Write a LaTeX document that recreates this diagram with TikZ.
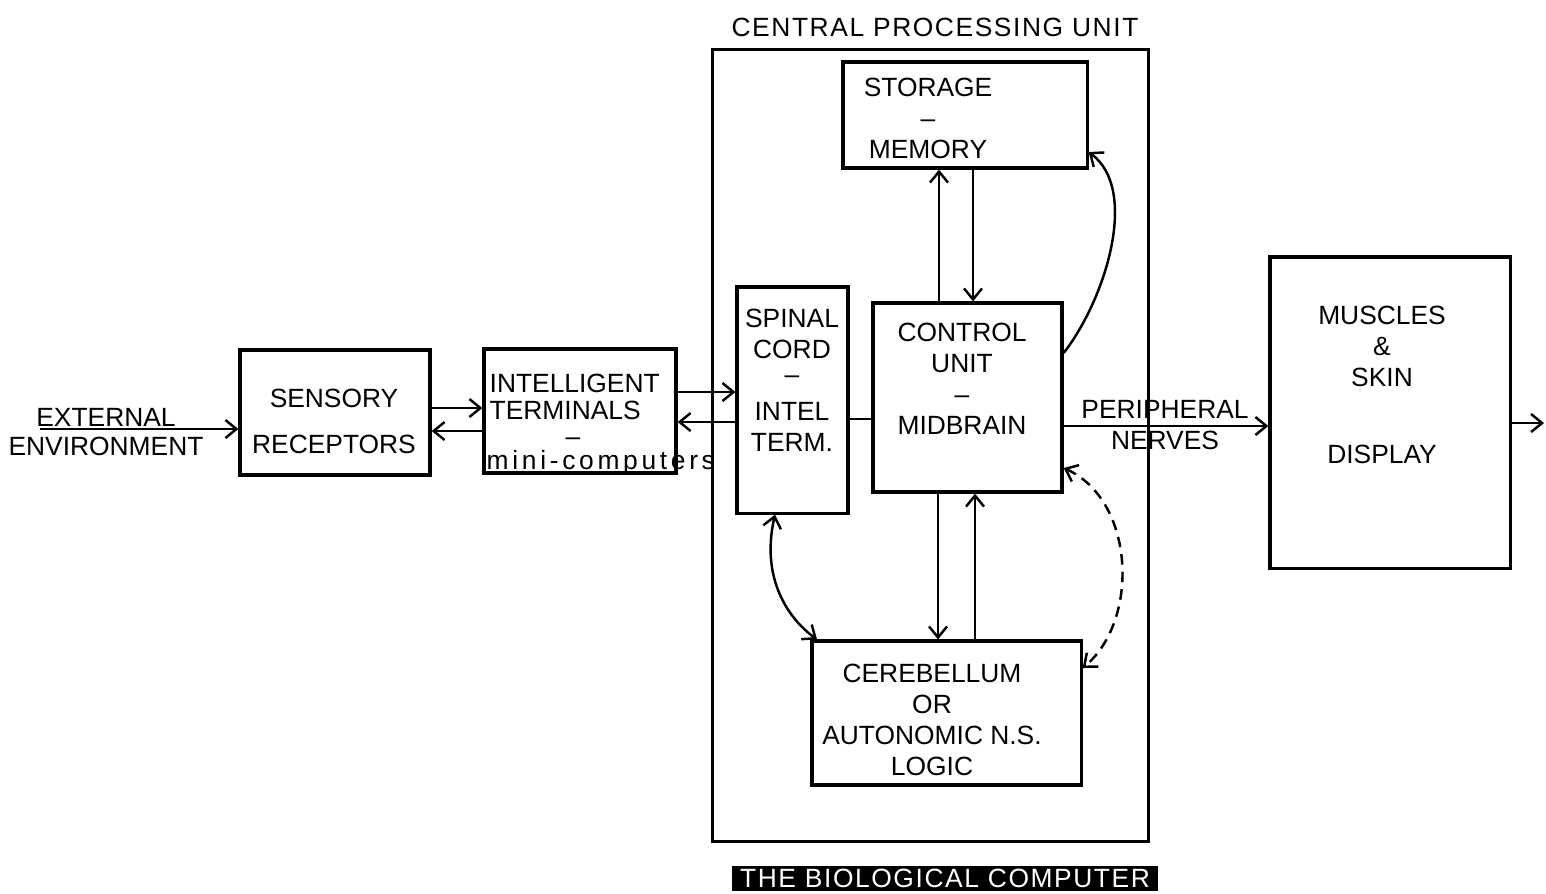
\documentclass[tikz,border=0pt]{standalone}
\usepackage{fontspec}
\setmainfont{Liberation Sans}
\usetikzlibrary{arrows.meta,calc}
\newcommand\bcfont{\fontsize{7.5}{8.8}\selectfont}
\tikzset{bx/.style={draw,line width=.9pt,inner sep=0pt},
 tx/.style={align=center,inner sep=0pt,font=\bcfont},
 wire/.style={line width=.7pt},
 arr/.style={wire,-{Straight Barb[length=1.1mm,width=1.8mm]}},
 darr/.style={wire,{Straight Barb[length=1.1mm,width=1.8mm]}-{Straight Barb[length=1.1mm,width=1.8mm]}},
 dots/.style={dash pattern=on 3pt off 2pt}}

\begin{document}
\begin{tikzpicture}[x=0.01cm,y=-0.01cm]
\useasboundingbox (0,0) rectangle (1546,893);
% boxes
\node[bx,minimum width=4.35cm,minimum height=7.91cm] (cpu) at (930.5,445.5) {};
\node[bx,minimum width=1.9cm,minimum height=1.25cm] (sens) at (335,412.5) {};
\node[bx,minimum width=1.92cm,minimum height=1.24cm] (term) at (580,411) {};
\node[bx,minimum width=1.11cm,minimum height=2.26cm] (spin) at (792.5,400) {};
\node[bx,minimum width=1.89cm,minimum height=1.89cm] (ctrl) at (967.5,397.5) {};
\node[bx,minimum width=2.44cm,minimum height=1.06cm] (stor) at (965,115) {};
\node[bx,minimum width=2.69cm,minimum height=1.44cm] (cere) at (946.5,713) {};
\node[bx,minimum width=2.4cm,minimum height=3.11cm] (musc) at (1390,412.5) {};
\coordinate (ext) at (40,429);
\coordinate (outp) at (1544,423);
% texts
\node[tx] (cputl) at (935,27) {\addfontfeatures{LetterSpace=6}CENTRAL PROCESSING UNIT};
\node[tx] (exttx) at (106,432) {EXTERNAL\\[-0.6pt]ENVIRONMENT};
\node[tx] (senstx) at (334,421.5) {SENSORY\\[4.5pt]RECEPTORS};
\node[tx,align=left,anchor=west] (termtx) at (489,397) {INTELLIGENT\\[-0.9pt]TERMINALS};
\node[tx] (termdash) at (573,442) {--};
\node[tx,anchor=west] (termsub) at (486,463) {\addfontfeatures{LetterSpace=14}mini-computers};
\node[tx] (spintx) at (792,380) {SPINAL\\CORD\\[-1.6pt]--\\[1.6pt]INTEL\\TERM.};
\node[tx] (ctrltx) at (962,379) {CONTROL\\UNIT\\--\\MIDBRAIN};
\node[tx] (stortx) at (928,118) {STORAGE\\--\\MEMORY};
\node[tx] (ceretx) at (932,719.5) {CEREBELLUM\\OR\\AUTONOMIC N.S.\\LOGIC};
\node[tx] (musctx) at (1382,385) {MUSCLES\\\&\\SKIN\\[13pt]DISPLAY};
\node[tx] (pertx) at (1165,425) {PERIPHERAL\\NERVES};
\node[tx,fill=black,text=white,minimum width=4.26cm,minimum height=0.25cm] (bctl) at (945,878) {\addfontfeatures{LetterSpace=6}THE BIOLOGICAL COMPUTER};
% connectors
\draw[arr] (ext) -- (sens.west |- ext);
\foreach \a/\b/\y in {sens.east/term.west/408,term.west/sens.east/431,term.east/spin.west/392,
 spin.west/term.east/422,ctrl.east/musc.west/426}{\draw[arr] (\a |- 0,\y) -- (\b |- 0,\y);}
\draw[wire] (spin.east |- 0,419) -- (ctrl.west |- 0,419);
\draw[arr] (musc.east |- outp) -- (outp);
\foreach \a/\b/\x in {ctrl.north/stor.south/939,stor.south/ctrl.north/973,
 ctrl.south/cere.north/938,cere.north/ctrl.south/975}{\draw[arr] (\a -| \x,0) -- (\b -| \x,0);}
\draw[arr] (ctrl.east |- 0,353) .. controls (1105,300) and (1140,190) .. (stor.east |- 0,152);
\draw[darr,dots] (ctrl.east |- 0,468) .. controls (1135,500) and (1140,620) .. (cere.east |- 0,668);
\draw[darr] (spin.south -| 775,0) .. controls (760,580) and (790,620) .. (cere.north -| 817,0);
\end{tikzpicture}
\end{document}
